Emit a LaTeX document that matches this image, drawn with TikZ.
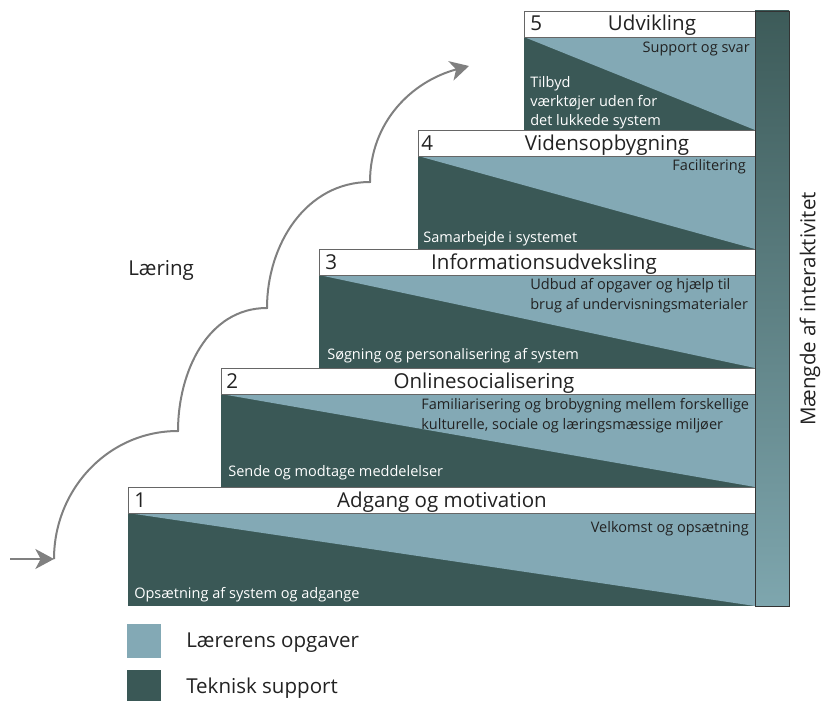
\documentclass[tikz,border=0pt]{standalone}
\usepackage{fontspec}
\setmainfont{Open Sans}
\usetikzlibrary{arrows.meta}

\definecolor{opgave}{HTML}{83A9B5}
\definecolor{teknik}{HTML}{3A5856}
\definecolor{buegraa}{HTML}{808080}
\definecolor{bartop}{HTML}{3D5B59}
\definecolor{barbund}{HTML}{7EA6AE}
\definecolor{tekst}{HTML}{222222}

\begin{document}
\begin{tikzpicture}[
        x=0.75pt, y=0.75pt,
        header/.style={draw=black!60, fill=white, line width=0.6pt},
        big/.style={font=\fontsize{15.4}{18}\selectfont, text=tekst, inner sep=0pt},
        small/.style={font=\fontsize{10.9}{15}\selectfont, inner sep=0pt, align=left},
        lys/.style={small, text=tekst},
        mork/.style={small, text=white},
        bue/.style={draw=buegraa, line width=1.5pt,
            -{Stealth[length=14pt,width=15pt,inset=4pt]}},
    ]
    \useasboundingbox (0,0) rectangle (823,701);

    \fill [teknik] (128,95) rectangle (755,188);
    \fill [opgave] (128,188) -- (755,188) -- (755,95) -- cycle;
    \draw [header] (128,188) rectangle (755,214);

    \fill [teknik] (221,214) rectangle (755,307);
    \fill [opgave] (221,307) -- (755,307) -- (755,214) -- cycle;
    \draw [header] (221,307) rectangle (755,333);

    \fill [teknik] (319,333) rectangle (755,426);
    \fill [opgave] (319,426) -- (755,426) -- (755,333) -- cycle;
    \draw [header] (319,426) rectangle (755,452);

    \fill [teknik] (418,452) rectangle (755,545);
    \fill [opgave] (418,545) -- (755,545) -- (755,452) -- cycle;
    \draw [header] (418,545) rectangle (755,571);

    \fill [teknik] (524,571) rectangle (755,664);
    \fill [opgave] (524,664) -- (755,664) -- (755,571) -- cycle;
    \draw [header] (524,664) rectangle (755,690);

    \shade [top color=bartop, bottom color=barbund]
        (755,95) rectangle (789,690);
    \draw [black!80, line width=0.6pt]
        (755,95) rectangle (789,690);

    \node [big, anchor=base west] (n1) at (134,194) {1};
    \node [big, anchor=base] (t1) at (442,194) {Adgang og motivation};
    \node [big, anchor=base west] (n2) at (226,313) {2};
    \node [big, anchor=base] (t2) at (484,313) {Onlinesocialisering};
    \node [big, anchor=base west] (n3) at (325,432) {3};
    \node [big, anchor=base] (t3) at (544,432) {Informationsudveksling};
    \node [big, anchor=base west] (n4) at (421,551) {4};
    \node [big, anchor=base] (t4) at (607,551) {Vidensopbygning};
    \node [big, anchor=base west] (n5) at (530,670) {5};
    \node [big, anchor=base] (t5) at (652,670) {Udvikling};

    \node [lys, anchor=base east] (l1) at (749,169) {Velkomst og opsætning};
    \node [mork, anchor=base west] (d1) at (134,103)
        {Opsætning af system og adgange};
    \node [lys, anchor=west] (l2) at (421,285.5)
        {Familiarisering og brobygning mellem forskellige\\
         kulturelle, sociale og læringsmæssige miljøer};
    \node [mork, anchor=base west] (d2) at (228,225)
        {Sende og modtage meddelelser};
    \node [lys, anchor=west] (l3) at (530,405)
        {Udbud af opgaver og hjælp til\\brug af undervisningsmaterialer};
    \node [mork, anchor=base west] (d3) at (327,342)
        {Søgning og personalisering af system};
    \node [lys, anchor=base east] (l4) at (746,530) {Facilitering};
    \node [mork, anchor=base west] (d4) at (423,459)
        {Samarbejde i systemet};
    \node [lys, anchor=base east] (l5) at (750,648) {Support og svar};
    \node [mork, anchor=west, font=\fontsize{10.9}{14.3}\selectfont]
        (d5) at (530,598)
        {Tilbyd\\værktøjer uden for\\det lukkede system};

    \node [big, rotate=90] (akse) at (810,392) {Mængde af interaktivitet};
    \node [big, anchor=base west] (laering) at (128,426) {Læring};

    \fill [opgave] (127,43) rectangle (161,77);
    \fill [teknik] (127,0) rectangle (161,31);
    \node [big, anchor=base west] (leg1) at (186,54) {Lærerens opgaver};
    \node [big, anchor=base west] (leg2) at (186,8) {Teknisk support};

    \coordinate (ind) at (10,142);
    \coordinate (c0) at (54,142);
    \coordinate (c1) at (178,270);
    \coordinate (c2) at (267,393);
    \coordinate (c3) at (370,519);
    \coordinate (c4) at (469,635);

    \draw [bue] (ind) -- (c0);
    \draw [bue]
        (c0)
        to[out=90,in=180]
        (c1)
        to[out=90,in=180]
        (c2)
        to[out=90,in=180]
        (c3)
        to[out=90,in=195]
        (c4)
        ;
\end{tikzpicture}
\end{document}
